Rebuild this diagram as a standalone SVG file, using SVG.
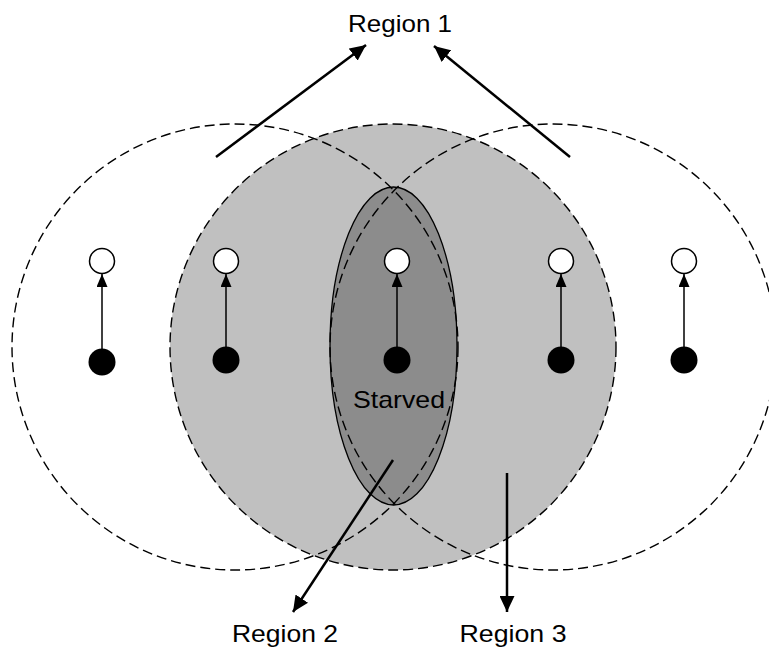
<svg xmlns="http://www.w3.org/2000/svg" width="769" height="650" viewBox="0 0 769 650">
  <style>
    .range { fill: none; stroke: #000; stroke-width: 1.4; stroke-dasharray: 10 5; }
    .rx { fill: #fff; stroke: #000; stroke-width: 1.5; }
    .tx { fill: #000; }
    .link { stroke: #000; stroke-width: 1.5; fill: none; marker-end: url(#tip-small); }
    .pointer { stroke: #000; stroke-width: 2.5; fill: none; marker-end: url(#tip-big); }
    .label { font-family: "Liberation Sans", Arial, sans-serif; font-size: 24px; fill: #000; }
  </style>
  <defs>
    <marker id="tip-small" viewBox="0 0 10 10" refX="10" refY="5" markerWidth="13" markerHeight="11" markerUnits="userSpaceOnUse" orient="auto" preserveAspectRatio="none">
      <path d="M0,0 L10,5 L0,10 z" fill="#000"/>
    </marker>
    <marker id="tip-big" viewBox="0 0 10 10" refX="10" refY="5" markerWidth="16" markerHeight="15" markerUnits="userSpaceOnUse" orient="auto" preserveAspectRatio="none">
      <path d="M0,0 L10,5 L0,10 z" fill="#000"/>
    </marker>
  </defs>

  <!-- shaded coverage of the middle transmitter -->
  <circle cx="393" cy="347" r="223" fill="#c0c0c0"/>
  <!-- starved zone -->
  <ellipse id="starved" cx="393.5" cy="346" rx="63.5" ry="159" fill="#8c8c8c" stroke="#000" stroke-width="1.3"/>

  <!-- dashed coverage ranges -->
  <circle class="range" cx="235" cy="347" r="223"/>
  <circle class="range" cx="393" cy="347" r="223"/>
  <circle class="range" cx="553" cy="347" r="223"/>

  <!-- transmitter / receiver pairs -->
  <g id="pair1"><circle class="rx" cx="102" cy="261" r="12.5"/><circle class="tx" cx="102" cy="362" r="13.5"/></g>
  <g id="pair2"><circle class="rx" cx="226" cy="261" r="12.5"/><circle class="tx" cx="226" cy="360" r="13.5"/></g>
  <g id="pair3"><circle class="rx" cx="397" cy="261" r="12.5"/><circle class="tx" cx="397" cy="360" r="13.5"/></g>
  <g id="pair4"><circle class="rx" cx="561" cy="261" r="12.5"/><circle class="tx" cx="561" cy="360" r="13.5"/></g>
  <g id="pair5"><circle class="rx" cx="684" cy="261" r="12.5"/><circle class="tx" cx="684" cy="360" r="13.5"/></g>

  <g id="connectors">
    <line class="link" x1="102" y1="349" x2="102" y2="274"/>
    <line class="link" x1="226" y1="347" x2="226" y2="274"/>
    <line class="link" x1="397" y1="347" x2="397" y2="274"/>
    <line class="link" x1="561" y1="347" x2="561" y2="274"/>
    <line class="link" x1="684" y1="347" x2="684" y2="274"/>
    <line class="pointer" x1="216" y1="157" x2="366" y2="45"/>
    <line class="pointer" x1="570" y1="157" x2="434" y2="46"/>
    <line class="pointer" x1="393" y1="460" x2="293" y2="612"/>
    <line class="pointer" x1="507" y1="473" x2="507" y2="612"/>
  </g>

  <text class="label" x="400" y="32" text-anchor="middle" textLength="104" lengthAdjust="spacingAndGlyphs">Region 1</text>
  <text class="label" x="399" y="408" text-anchor="middle" textLength="92" lengthAdjust="spacingAndGlyphs">Starved</text>
  <text class="label" x="285" y="642" text-anchor="middle" textLength="106" lengthAdjust="spacingAndGlyphs">Region 2</text>
  <text class="label" x="513" y="642" text-anchor="middle" textLength="107" lengthAdjust="spacingAndGlyphs">Region 3</text>
</svg>
